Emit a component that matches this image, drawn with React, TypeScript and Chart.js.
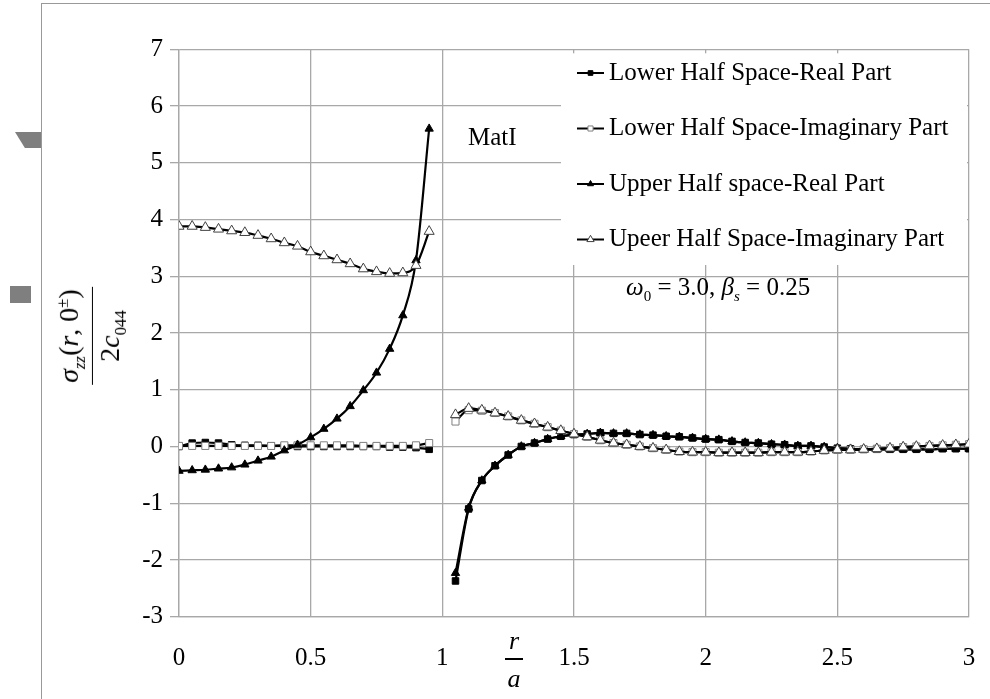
import React, { useEffect, useRef } from "react";
import { Chart, registerables } from "chart.js";

Chart.register(...registerables);

// ---------- data ----------
const xLeft = [0, 0.05, 0.1, 0.15, 0.2, 0.25, 0.3, 0.35, 0.4, 0.45, 0.5, 0.55, 0.6, 0.65, 0.7, 0.75, 0.8, 0.85, 0.9, 0.95];
const xRight = [1.05, 1.1, 1.15, 1.2, 1.25, 1.3, 1.35, 1.4, 1.45, 1.5, 1.55, 1.6, 1.65, 1.7, 1.75, 1.8, 1.85, 1.9, 1.95,
  2.0, 2.05, 2.1, 2.15, 2.2, 2.25, 2.3, 2.35, 2.4, 2.45, 2.5, 2.55, 2.6, 2.65, 2.7, 2.75, 2.8, 2.85, 2.9, 2.95, 3.0];
const gapX = 1.0;

const lowerRealLeft = [0.00, 0.06, 0.07, 0.06, 0.03, 0.02, 0.02, 0.01, 0.01, 0.00, 0.00, 0.00, 0.00, 0.00, 0.00, 0.00, -0.01, -0.01, -0.02, -0.05];
const lowerRealRight = [-2.37, -1.10, -0.60, -0.34, -0.15, 0.00, 0.06, 0.13, 0.18, 0.21, 0.22, 0.24, 0.23, 0.23, 0.21, 0.20, 0.18, 0.17, 0.15,
  0.13, 0.12, 0.09, 0.07, 0.06, 0.04, 0.03, 0.01, 0.01, -0.01, -0.03, -0.04, -0.05, -0.05, -0.05, -0.05, -0.05, -0.05, -0.04, -0.04, -0.04];

const lowerImagLeft = [0.01, 0.01, 0.01, 0.01, 0.01, 0.01, 0.01, 0.01, 0.02, 0.02, 0.02, 0.02, 0.02, 0.02, 0.01, 0.01, 0.01, 0.01, 0.02, 0.06];
const lowerImagRight = [0.44, 0.64, 0.63, 0.59, 0.53, 0.46, 0.40, 0.34, 0.28, 0.22, 0.17, 0.11, 0.06, 0.03, 0.00, -0.03, -0.06, -0.09, -0.10,
  -0.10, -0.11, -0.11, -0.11, -0.11, -0.10, -0.10, -0.10, -0.09, -0.07, -0.06, -0.06, -0.05, -0.04, -0.03, -0.01, 0.00, 0.01, 0.02, 0.03, 0.04];

const upperRealLeft = [-0.43, -0.42, -0.41, -0.39, -0.37, -0.32, -0.25, -0.18, -0.07, 0.03, 0.16, 0.31, 0.49, 0.71, 0.99, 1.30, 1.72, 2.31, 3.28, 5.60];
const upperRealRight = [-2.23, -1.08, -0.60, -0.34, -0.15, 0.00, 0.06, 0.13, 0.18, 0.21, 0.22, 0.24, 0.23, 0.23, 0.21, 0.20, 0.18, 0.17, 0.15,
  0.13, 0.12, 0.09, 0.07, 0.06, 0.04, 0.03, 0.01, 0.01, -0.01, -0.03, -0.04, -0.05, -0.05, -0.05, -0.05, -0.05, -0.05, -0.04, -0.04, -0.04];

const upperImagLeft = [3.88, 3.88, 3.86, 3.83, 3.80, 3.77, 3.72, 3.66, 3.59, 3.53, 3.43, 3.36, 3.29, 3.22, 3.13, 3.08, 3.05, 3.06, 3.19, 3.79];
const upperImagRight = [0.56, 0.67, 0.64, 0.59, 0.53, 0.46, 0.40, 0.34, 0.28, 0.22, 0.17, 0.11, 0.06, 0.03, 0.00, -0.03, -0.06, -0.09, -0.10,
  -0.10, -0.11, -0.11, -0.11, -0.11, -0.10, -0.10, -0.10, -0.09, -0.07, -0.06, -0.06, -0.05, -0.04, -0.03, -0.01, 0.00, 0.01, 0.02, 0.03, 0.04];

const seriesLabels = [
  "Lower Half Space-Real Part",
  "Lower Half Space-Imaginary Part",
  "Upper Half space-Real Part",
  "Upeer Half Space-Imaginary Part",
];

const xMin = 0, xMax = 3, xStep = 0.5;
const yMin = -3, yMax = 7, yStep = 1;

// ---------- helpers ----------
const SERIF = '"Liberation Serif", "Times New Roman", serif';
const GRID = "#a8a8a8";

function build(left: number[], right: number[]) {
  return [
    ...xLeft.map((x, i) => ({ x, y: left[i] })),
    { x: gapX, y: null as any },
    ...xRight.map((x, i) => ({ x, y: right[i] })),
  ];
}

type Mk = { shape: "rect" | "triangle"; filled: boolean; r: number };
const markers: Mk[] = [
  { shape: "rect", filled: true, r: 4.6 },
  { shape: "rect", filled: false, r: 5 },
  { shape: "triangle", filled: true, r: 4.8 },
  { shape: "triangle", filled: false, r: 5.8 },
];

function drawMarker(ctx: CanvasRenderingContext2D, m: Mk, x: number, y: number, r: number) {
  ctx.beginPath();
  if (m.shape === "rect") {
    const s = Math.SQRT1_2 * r;
    ctx.rect(x - s, y - s, 2 * s, 2 * s);
  } else {
    ctx.moveTo(x, y - r);
    ctx.lineTo(x + r * 0.866, y + r * 0.5);
    ctx.lineTo(x - r * 0.866, y + r * 0.5);
    ctx.closePath();
  }
  ctx.fillStyle = m.filled ? "#000" : "#fff";
  ctx.fill();
  ctx.lineWidth = 1;
  ctx.strokeStyle = m.filled ? "#000" : m.shape === "rect" ? "#808080" : "#404040";
  ctx.stroke();
}

const legendRowY = [73, 128.5, 184, 239.5];

const boxLegend = {
  id: "boxLegend",
  afterDraw(chart: any) {
    const { ctx, chartArea } = chart;
    const left = 561;
    const top = chartArea.top + 4;
    const right = chartArea.right - 2;
    const bottom = 265;
    ctx.save();
    ctx.fillStyle = "#ffffff";
    ctx.fillRect(left, top, right - left, bottom - top);
    ctx.font = `25px ${SERIF}`;
    ctx.textBaseline = "middle";
    chart.data.datasets.forEach((ds: any, i: number) => {
      const y = legendRowY[i];
      ctx.strokeStyle = "#000";
      ctx.lineWidth = 2;
      ctx.beginPath();
      ctx.moveTo(577, y);
      ctx.lineTo(604, y);
      ctx.stroke();
      drawMarker(ctx, markers[i], 590.5, y, markers[i].r * 0.72);
      ctx.fillStyle = "#000";
      ctx.fillText(ds.label, 609, y);
    });
    ctx.restore();
  },
};

const fmt = (v: any) => String(Math.round(Number(v) * 100) / 100);

export default function App() {
  const canvasRef = useRef<HTMLCanvasElement | null>(null);

  useEffect(() => {
    if (!canvasRef.current) return;
    const sets = [
      build(lowerRealLeft, lowerRealRight),
      build(lowerImagLeft, lowerImagRight),
      build(upperRealLeft, upperRealRight),
      build(upperImagLeft, upperImagRight),
    ];
    const chart = new Chart(canvasRef.current, {
      type: "line",
      data: {
        datasets: sets.map((data, i) => ({
          label: seriesLabels[i],
          data,
          order: 3 - i,
          borderColor: "#000",
          borderWidth: 2.2,
          pointStyle: markers[i].shape,
          pointRadius: markers[i].r,
          pointBackgroundColor: markers[i].filled ? "#000" : "#fff",
          pointBorderColor: markers[i].filled ? "#000" : markers[i].shape === "rect" ? "#808080" : "#404040",
          pointBorderWidth: 1,
          cubicInterpolationMode: "monotone",
          spanGaps: false,
          fill: false,
        })),
      },
      options: {
        responsive: false,
        animation: false,
        devicePixelRatio: 1,
        layout: { padding: { left: 0, right: 21, top: 49.3, bottom: 0 } },
        plugins: { legend: { display: false }, tooltip: { enabled: false } },
        scales: {
          x: {
            type: "linear",
            min: xMin,
            max: xMax,
            afterFit: (s: any) => { s.height = 82.3; s.paddingLeft = 0; s.paddingRight = 0; },
            ticks: { stepSize: xStep, color: "#000", font: { family: SERIF, size: 25 }, padding: 27, maxRotation: 0, callback: fmt },
            grid: { color: GRID, lineWidth: 1.3, drawTicks: false },
            border: { color: GRID, width: 1.3 },
          },
          y: {
            min: yMin,
            max: yMax,
            afterFit: (s: any) => { s.width = 179; s.paddingTop = 0; s.paddingBottom = 0; },
            ticks: { stepSize: yStep, color: "#000", font: { family: SERIF, size: 25 }, padding: 7, callback: fmt },
            grid: { color: GRID, lineWidth: 1.3, tickLength: 9 },
            border: { color: GRID, width: 1.3 },
          },
        },
      },
      plugins: [boxLegend],
    } as any);
    return () => chart.destroy();
  }, []);

  return (
    <div style={{ position: "absolute", left: 0, top: 0, width: 990, height: 699, background: "#fff", fontFamily: SERIF, color: "#000", overflow: "hidden" }}>
      <div style={{ position: "absolute", left: 41, top: 3, width: 960, height: 710, borderLeft: "1px solid #999", borderTop: "1px solid #999" }} />
      <div style={{ position: "absolute", left: 15, top: 132, width: 26, height: 16, background: "#7f7f7f", clipPath: "polygon(0 0, 100% 0, 100% 100%, 38% 100%)" }} />
      <div style={{ position: "absolute", left: 10, top: 286, width: 21, height: 17, background: "#7f7f7f" }} />
      <canvas ref={canvasRef} width={990} height={699} style={{ position: "absolute", left: 0, top: 0, width: 990, height: 699 }} />
      {/* y-axis title */}
      <div style={{ position: "absolute", left: 92, top: 336, transform: "translate(-50%,-50%) rotate(-90deg)", display: "flex", flexDirection: "column", alignItems: "center", fontSize: 28, lineHeight: 1, whiteSpace: "nowrap" }}>
        <div style={{ borderBottom: "1.5px solid #000", padding: "0 2px 3px" }}>
          <i>σ</i><sub style={{ fontSize: "0.6em" }}><i>zz</i></sub>(<i>r</i>, 0<sup style={{ fontSize: "0.6em" }}>±</sup>)
        </div>
        <div style={{ paddingTop: 3 }}>
          2<i>c</i><sub style={{ fontSize: "0.6em" }}>044</sub>
        </div>
      </div>
      {/* x-axis title */}
      <div style={{ position: "absolute", left: 514, top: 628, transform: "translateX(-50%)", fontSize: 26, fontStyle: "italic", lineHeight: 1 }}>r</div>
      <div style={{ position: "absolute", left: 505, top: 658, width: 18, height: 1.5, background: "#000" }} />
      <div style={{ position: "absolute", left: 514, top: 666, transform: "translateX(-50%)", fontSize: 26, fontStyle: "italic", lineHeight: 1 }}>a</div>
      {/* annotations */}
      <div style={{ position: "absolute", left: 468, top: 124, fontSize: 25, lineHeight: 1, whiteSpace: "nowrap" }}>MatI</div>
      <div style={{ position: "absolute", left: 626, top: 274, fontSize: 25, lineHeight: 1, whiteSpace: "nowrap" }}>
        <i>ω</i><sub style={{ fontSize: "0.6em" }}>0</sub> = 3.0, <i>β</i><sub style={{ fontSize: "0.6em" }}><i>s</i></sub> = 0.25
      </div>
    </div>
  );
}
